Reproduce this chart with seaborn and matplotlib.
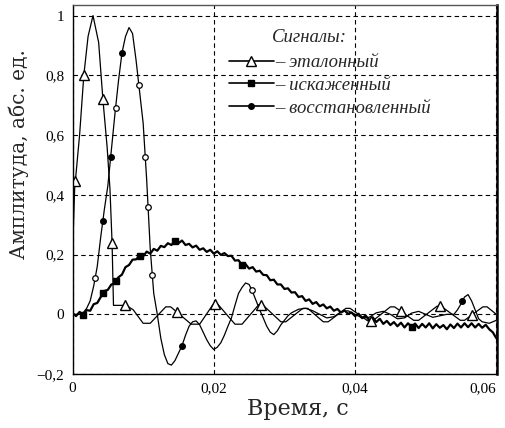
import matplotlib
matplotlib.use("Agg")
import matplotlib.pyplot as plt
from matplotlib.lines import Line2D
from matplotlib.ticker import FuncFormatter, MultipleLocator
import numpy as np
import pandas as pd
import seaborn as sns

# время в мс, амплитуда в абс. ед.
# эталонный сигнал
t_ref = [0, 0.3, 1.0, 1.6, 2.2, 2.9, 3.7, 4.3, 4.9, 5.3, 5.6, 5.8,
         7.6, 8.6, 10.0, 11.0, 13.2, 13.9, 16.8, 18.0, 19.9, 20.6, 23.0, 24.0,
         26.4, 27.0, 29.5, 30.2, 32.6, 33.3, 35.5, 36.2, 38.7, 39.3, 41.8, 42.5,
         45.0, 45.6, 48.3, 49.0, 51.6, 52.2, 54.9, 55.5, 58.1, 58.7, 60.0]
v_ref = [0.2, 0.42, 0.6, 0.8, 0.93, 1.0, 0.91, 0.72, 0.56, 0.42, 0.24, 0.03,
         0.03, 0.015, -0.03, -0.03, 0.025, 0.025, -0.033, -0.033, 0.033, 0.033, -0.033, -0.033,
         0.033, 0.03, -0.025, -0.025, 0.02, 0.02, -0.025, -0.025, 0.02, 0.02, -0.022, -0.022,
         0.025, 0.025, -0.02, -0.02, 0.027, 0.027, -0.02, -0.02, 0.025, 0.025, 0.0]

# искаженный сигнал, отсчеты через 0,5 мс
t_dist = np.arange(0, 60.5, 0.5)
v_dist = [0.004, -0.006, 0.008, -0.002, 0.014, 0.012, 0.034, 0.038, 0.058, 0.078,
          0.082, 0.1, 0.103, 0.124, 0.133, 0.158, 0.165, 0.183, 0.184, 0.196,
          0.194, 0.21, 0.203, 0.219, 0.213, 0.229, 0.225, 0.238, 0.232, 0.246,
          0.238, 0.247, 0.232, 0.236, 0.224, 0.23, 0.216, 0.221, 0.209, 0.216,
          0.203, 0.211, 0.199, 0.205, 0.195, 0.196, 0.18, 0.181, 0.165, 0.168,
          0.153, 0.158, 0.143, 0.146, 0.132, 0.131, 0.114, 0.116, 0.1, 0.1,
          0.085, 0.087, 0.073, 0.074, 0.058, 0.061, 0.045, 0.05, 0.035, 0.041,
          0.027, 0.033, 0.02, 0.026, 0.012, 0.018, 0.006, 0.013, 0.002, 0.006,
          -0.006, 0.002, -0.013, -0.004, -0.02, -0.01, -0.026, -0.015, -0.032, -0.022,
          -0.036, -0.026, -0.04, -0.028, -0.044, -0.03, -0.042, -0.031, -0.046, -0.032,
          -0.044, -0.03, -0.047, -0.033, -0.045, -0.036, -0.05, -0.034, -0.046, -0.031,
          -0.044, -0.03, -0.043, -0.03, -0.044, -0.032, -0.045, -0.035, -0.05, -0.06,
          -0.08]

# восстановленный сигнал
t_rec = [0, 1.0, 1.5, 2.0, 2.5, 3.0, 3.5, 4.0, 4.5, 5.0,
         5.5, 6.0, 6.5, 7.0, 7.5, 8.0, 8.5, 9.0, 9.5, 10.0,
         10.5, 11.0, 11.5, 12.0, 12.5, 13.0, 13.5, 14.0, 14.5, 15.0,
         15.5, 16.0, 16.5, 17.0, 17.5, 18.0, 18.5, 19.0, 19.5, 20.0,
         20.5, 21.0, 21.5, 22.0, 22.5, 23.0, 23.5, 24.0, 24.5, 25.0,
         25.5, 26.0, 26.5, 27.0, 27.5, 28.0, 28.5, 29.0, 29.5, 30.0,
         30.5, 31, 32, 33, 34, 35, 36, 37, 38, 39,
         40, 41, 42, 43, 44, 45, 46, 47, 48, 49,
         50, 51, 52, 53, 54, 54.5, 55, 55.5, 56, 56.5,
         57, 57.5, 58, 59, 60]
v_rec = [0.0, 0.0, 0.005, 0.02, 0.045, 0.095, 0.16, 0.26, 0.35, 0.43,
         0.55, 0.67, 0.78, 0.875, 0.93, 0.96, 0.94, 0.85, 0.745, 0.64,
         0.45, 0.22, 0.07, 0.0, -0.08, -0.135, -0.165, -0.17, -0.155, -0.13,
         -0.105, -0.07, -0.04, -0.025, -0.022, -0.035, -0.06, -0.085, -0.105, -0.118,
         -0.11, -0.095, -0.07, -0.04, -0.012, 0.03, 0.07, 0.09, 0.105, 0.1,
         0.075, 0.045, 0.015, -0.012, -0.04, -0.06, -0.068, -0.055, -0.035, -0.02,
         -0.005, 0.005, 0.017, 0.02, 0.012, 0.0, -0.012, -0.008, 0.008, 0.012,
         0.0, -0.012, -0.01, 0.005, 0.01, 0.0, -0.015, -0.012, 0.004, 0.01,
         0.0, -0.01, -0.005, 0.0, 0.0, 0.015, 0.035, 0.058, 0.066, 0.045,
         0.015, -0.015, -0.025, -0.03, -0.02]

# моменты, где на кривых стоят маркеры (мс)
ref_marks = [0.4, 1.6, 4.3, 5.6, 7.4, 14.8, 20.2, 26.7, 42.3, 46.5, 52.0, 56.5]
rec_marks_filled = [4.3, 5.4, 7.0, 15.5, 55.2]
rec_marks_open = [3.2, 6.1, 9.4, 10.3, 10.7, 11.3, 25.4]
dist_marks = [1.5, 4.3, 6.2, 9.5, 14.5, 24.0, 48.0]

x_ticks = [0, 0.02, 0.04, 0.06]
legend_labels = ["– эталонный", "– искаженный", "– восстановленный"]

sns.set_theme(style="white")
plt.rcParams["font.family"] = ["Liberation Serif", "DejaVu Serif"]
plt.rcParams["axes.unicode_minus"] = True

fig = plt.figure(figsize=(5.05, 4.28), dpi=100)
ax = fig.add_axes([0.1436, 0.126, 0.8406, 0.862])

df_ref = pd.DataFrame({"t": np.array(t_ref) / 1000, "v": v_ref})
df_dist = pd.DataFrame({"t": t_dist / 1000, "v": v_dist})
df_rec = pd.DataFrame({"t": np.array(t_rec) / 1000, "v": v_rec})

sns.lineplot(data=df_ref, x="t", y="v", ax=ax, color="black", lw=0.9, sort=False)
sns.lineplot(data=df_dist, x="t", y="v", ax=ax, color="black", lw=1.6, sort=False)
sns.lineplot(data=df_rec, x="t", y="v", ax=ax, color="black", lw=0.9, sort=False)

# маркеры по данным кривых
rm = np.array(ref_marks)
ax.plot(rm / 1000, np.interp(rm, t_ref, v_ref), ls="none", marker="^", ms=7,
        mfc="white", mec="black", mew=1.0)
fm = np.array(rec_marks_filled)
ax.plot(fm / 1000, np.interp(fm, t_rec, v_rec), ls="none", marker="o", ms=4,
        mfc="black", mec="black")
om = np.array(rec_marks_open)
ax.plot(om / 1000, np.interp(om, t_rec, v_rec), ls="none", marker="o", ms=4,
        mfc="white", mec="black", mew=0.9)
dm = np.array(dist_marks)
ax.plot(dm / 1000, np.interp(dm, t_dist, v_dist), ls="none", marker="s", ms=4,
        mfc="black", mec="black")

ax.set_xlim(0, 0.0601)
ax.set_ylim(-0.2, 1.035)
ax.set_xticks(x_ticks)
ax.yaxis.set_major_locator(MultipleLocator(0.2))

fmt = FuncFormatter(lambda v, p: f"{v:g}".replace(".", ",").replace("-", "\u2212"))
ax.xaxis.set_major_formatter(fmt)
ax.yaxis.set_major_formatter(fmt)
ax.tick_params(axis="both", labelsize=11, colors="black", direction="in",
               length=3, width=0.8, pad=6)

ax.grid(True, color="black", ls=(0, (4, 3)), lw=0.8)
for s in ax.spines.values():
    s.set_color("black")
    s.set_linewidth(1.0)
ax.spines["right"].set_linewidth(1.8)
ax.spines["top"].set_color("#555555")

ax.set_xlabel("Время, с", fontsize=16, family="DejaVu Serif")
ax.set_ylabel("Амплитуда, абс. ед.", fontsize=14.5, family="DejaVu Serif")
ax.xaxis.set_label_coords(0.53, -0.064)
ax.yaxis.set_label_coords(-0.102, 0.596)

handles = [
    Line2D([], [], color="black", lw=1.2, marker="^", ms=7, mfc="white", mec="black"),
    Line2D([], [], color="black", lw=1.2, marker="s", ms=4, mfc="black", mec="black"),
    Line2D([], [], color="black", lw=1.2, marker="o", ms=4, mfc="black", mec="black"),
]
leg = ax.legend(handles, legend_labels, loc="upper left", bbox_to_anchor=(0.35, 0.888),
                frameon=False, handlelength=2.4, handletextpad=0.1, labelspacing=0.3,
                borderaxespad=0, prop={"family": "Liberation Serif", "style": "italic", "size": 13.5})
ax.text(0.47, 0.913, "Сигналы:", transform=ax.transAxes, fontsize=13.5,
        style="italic", family="Liberation Serif", va="center", ha="left")

fig.canvas.draw()
ax.get_xticklabels()[-1].set_ha("right")

fig.savefig("out.png", dpi=100, facecolor="white")
